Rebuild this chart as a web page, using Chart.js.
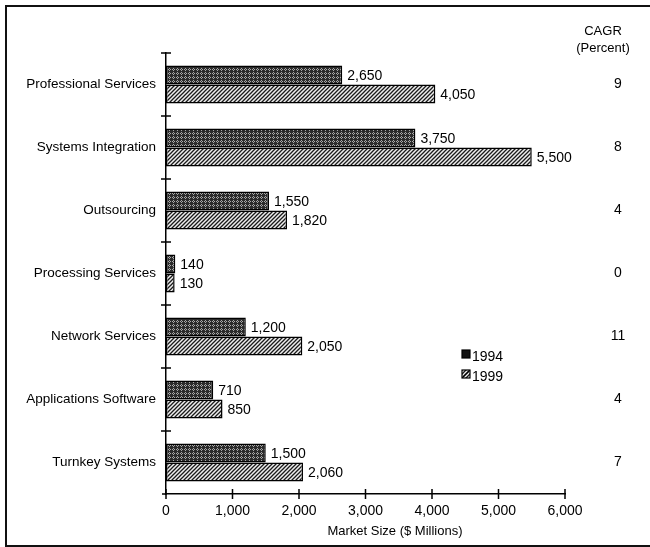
<!DOCTYPE html>
<html>
<head>
<meta charset="utf-8">
<script src="https://cdn.jsdelivr.net/npm/chart.js@4.4.1/dist/chart.umd.min.js"></script>
<style>
  html, body { margin: 0; padding: 0; background: #fff; }
  #wrap { position: relative; width: 650px; height: 547px; }
</style>
</head>
<body>
<div id="wrap"><canvas id="c" width="650" height="547"></canvas></div>
<script>
// Market segments and sizes ($ millions)
const categories = [
  'Professional Services',
  'Systems Integration',
  'Outsourcing',
  'Processing Services',
  'Network Services',
  'Applications Software',
  'Turnkey Systems'
];
const values1994 = [2650, 3750, 1550, 140, 1200, 710, 1500];
const values1999 = [4050, 5500, 1820, 130, 2050, 850, 2060];
const cagrPercent = [9, 8, 4, 0, 11, 4, 7];
const seriesLabels = ['1994', '1999'];
const xTicks = [0, 1000, 2000, 3000, 4000, 5000, 6000];
const xTitle = 'Market Size ($ Millions)';

const FONT = '"Liberation Sans", Arial, Helvetica, sans-serif';
const fmt = v => v.toLocaleString('en-US');

// Dense dark cross-hatch fill
function darkPattern() {
  const t = document.createElement('canvas');
  t.width = 4; t.height = 4;
  const g = t.getContext('2d');
  g.fillStyle = '#2b2b2b';
  g.fillRect(0, 0, 4, 4);
  g.fillStyle = '#a8a8a8';
  [[1,0],[0,1],[2,1],[1,2]].forEach(([x, y]) => g.fillRect(x, y, 1, 1));
  return g.createPattern(t, 'repeat');
}
// Diagonal hatching on light grey
function hatchPattern() {
  const t = document.createElement('canvas');
  t.width = 4; t.height = 4;
  const g = t.getContext('2d');
  g.fillStyle = '#eeeeee';
  g.fillRect(0, 0, 4, 4);
  g.strokeStyle = '#1a1a1a';
  g.lineWidth = 1.3;
  g.beginPath();
  g.moveTo(-1, 5); g.lineTo(5, -1);
  g.moveTo(-1, 1); g.lineTo(1, -1);
  g.moveTo(3, 5); g.lineTo(5, 3);
  g.stroke();
  return g.createPattern(t, 'repeat');
}
const fill1994 = darkPattern();
const fill1999 = hatchPattern();

// Page frame, tick marks, value labels, axis title, legend and CAGR column
const decorations = {
  id: 'decorations',
  afterDraw(chart) {
    const ctx = chart.ctx;
    const x = chart.scales.x, y = chart.scales.y;
    const area = chart.chartArea;
    ctx.save();

    // frame
    ctx.strokeStyle = '#111';
    ctx.lineWidth = 2;
    ctx.beginPath();
    ctx.moveTo(650, 6); ctx.lineTo(6, 6); ctx.lineTo(6, 546); ctx.lineTo(650, 546);
    ctx.stroke();

    // tick marks crossing both axes
    ctx.lineWidth = 1.5;
    ctx.strokeStyle = '#000';
    ctx.beginPath();
    xTicks.forEach(v => {
      const px = x.getPixelForValue(v);
      ctx.moveTo(px, area.bottom - 5); ctx.lineTo(px, area.bottom + 5);
    });
    const band = Math.abs(y.getPixelForValue(1) - y.getPixelForValue(0));
    for (let i = 0; i < categories.length; i++) {
      const py = y.getPixelForValue(i) - band / 2;
      ctx.moveTo(area.left - 5, py); ctx.lineTo(area.left + 5, py);
    }
    ctx.moveTo(area.left - 4, area.bottom); ctx.lineTo(area.left, area.bottom);
    ctx.stroke();

    // value labels at bar ends
    ctx.fillStyle = '#000';
    ctx.font = '14px ' + FONT;
    ctx.textAlign = 'left';
    ctx.textBaseline = 'middle';
    chart.data.datasets.forEach((ds, di) => {
      chart.getDatasetMeta(di).data.forEach((bar, i) => {
        ctx.fillText(fmt(ds.data[i]), bar.x + 5, bar.y + 1);
      });
    });

    // x axis title
    ctx.textAlign = 'center';
    ctx.font = '13px ' + FONT;
    ctx.fillText(xTitle, 395, 531);

    // legend
    ctx.textAlign = 'left';
    const lx = 462, ly = [354, 374];
    [fill1994, fill1999].forEach((f, i) => {
      ctx.fillStyle = i === 0 ? '#111' : f;
      ctx.fillRect(lx, ly[i] - 4, 8, 8);
      ctx.lineWidth = 1.2;
      ctx.strokeStyle = '#000';
      ctx.strokeRect(lx, ly[i] - 4, 8, 8);
      if (i === 1) {
        ctx.beginPath(); ctx.moveTo(lx + 1, ly[i] + 3); ctx.lineTo(lx + 7, ly[i] - 3); ctx.stroke();
      }
      ctx.fillStyle = '#000';
      ctx.font = '14px ' + FONT;
      ctx.fillText(seriesLabels[i], lx + 10, ly[i] + 3);
    });

    // CAGR column
    ctx.textAlign = 'center';
    ctx.font = '13px ' + FONT;
    ctx.fillText('CAGR', 603, 31);
    ctx.fillText('(Percent)', 603, 48);
    ctx.font = '14px ' + FONT;
    cagrPercent.forEach((v, i) => {
      ctx.fillText(String(v), 618, y.getPixelForValue(i));
    });
    ctx.restore();
  }
};

new Chart(document.getElementById('c'), {
  type: 'bar',
  data: {
    labels: categories,
    datasets: [
      { label: seriesLabels[0], data: values1994, backgroundColor: fill1994,
        borderColor: '#000', borderWidth: 1.5, borderSkipped: false },
      { label: seriesLabels[1], data: values1999, backgroundColor: fill1999,
        borderColor: '#000', borderWidth: 1.5, borderSkipped: false }
    ]
  },
  options: {
    indexAxis: 'y',
    responsive: false,
    animation: false,
    events: [],
    layout: { padding: { top: 53, right: 85, left: 0, bottom: 0 } },
    datasets: { bar: { categoryPercentage: 0.6, barPercentage: 1.0 } },
    plugins: { legend: { display: false }, tooltip: { enabled: false } },
    scales: {
      x: {
        min: 0, max: 6000,
        afterFit: s => { s.height = 53; },
        afterBuildTicks: s => { s.ticks = xTicks.map(v => ({ value: v })); },
        grid: { display: false, drawTicks: false },
        border: { display: true, color: '#000', width: 1.5 },
        ticks: { color: '#000', padding: 9, font: { family: FONT, size: 14 },
                 callback: v => fmt(v) }
      },
      y: {
        afterFit: s => { s.width = 166; },
        grid: { display: false, drawTicks: false },
        border: { display: true, color: '#000', width: 1.5 },
        ticks: { color: '#000', padding: 10, font: { family: FONT, size: 13.5 } }
      }
    }
  },
  plugins: [decorations]
});
</script>
</body>
</html>
